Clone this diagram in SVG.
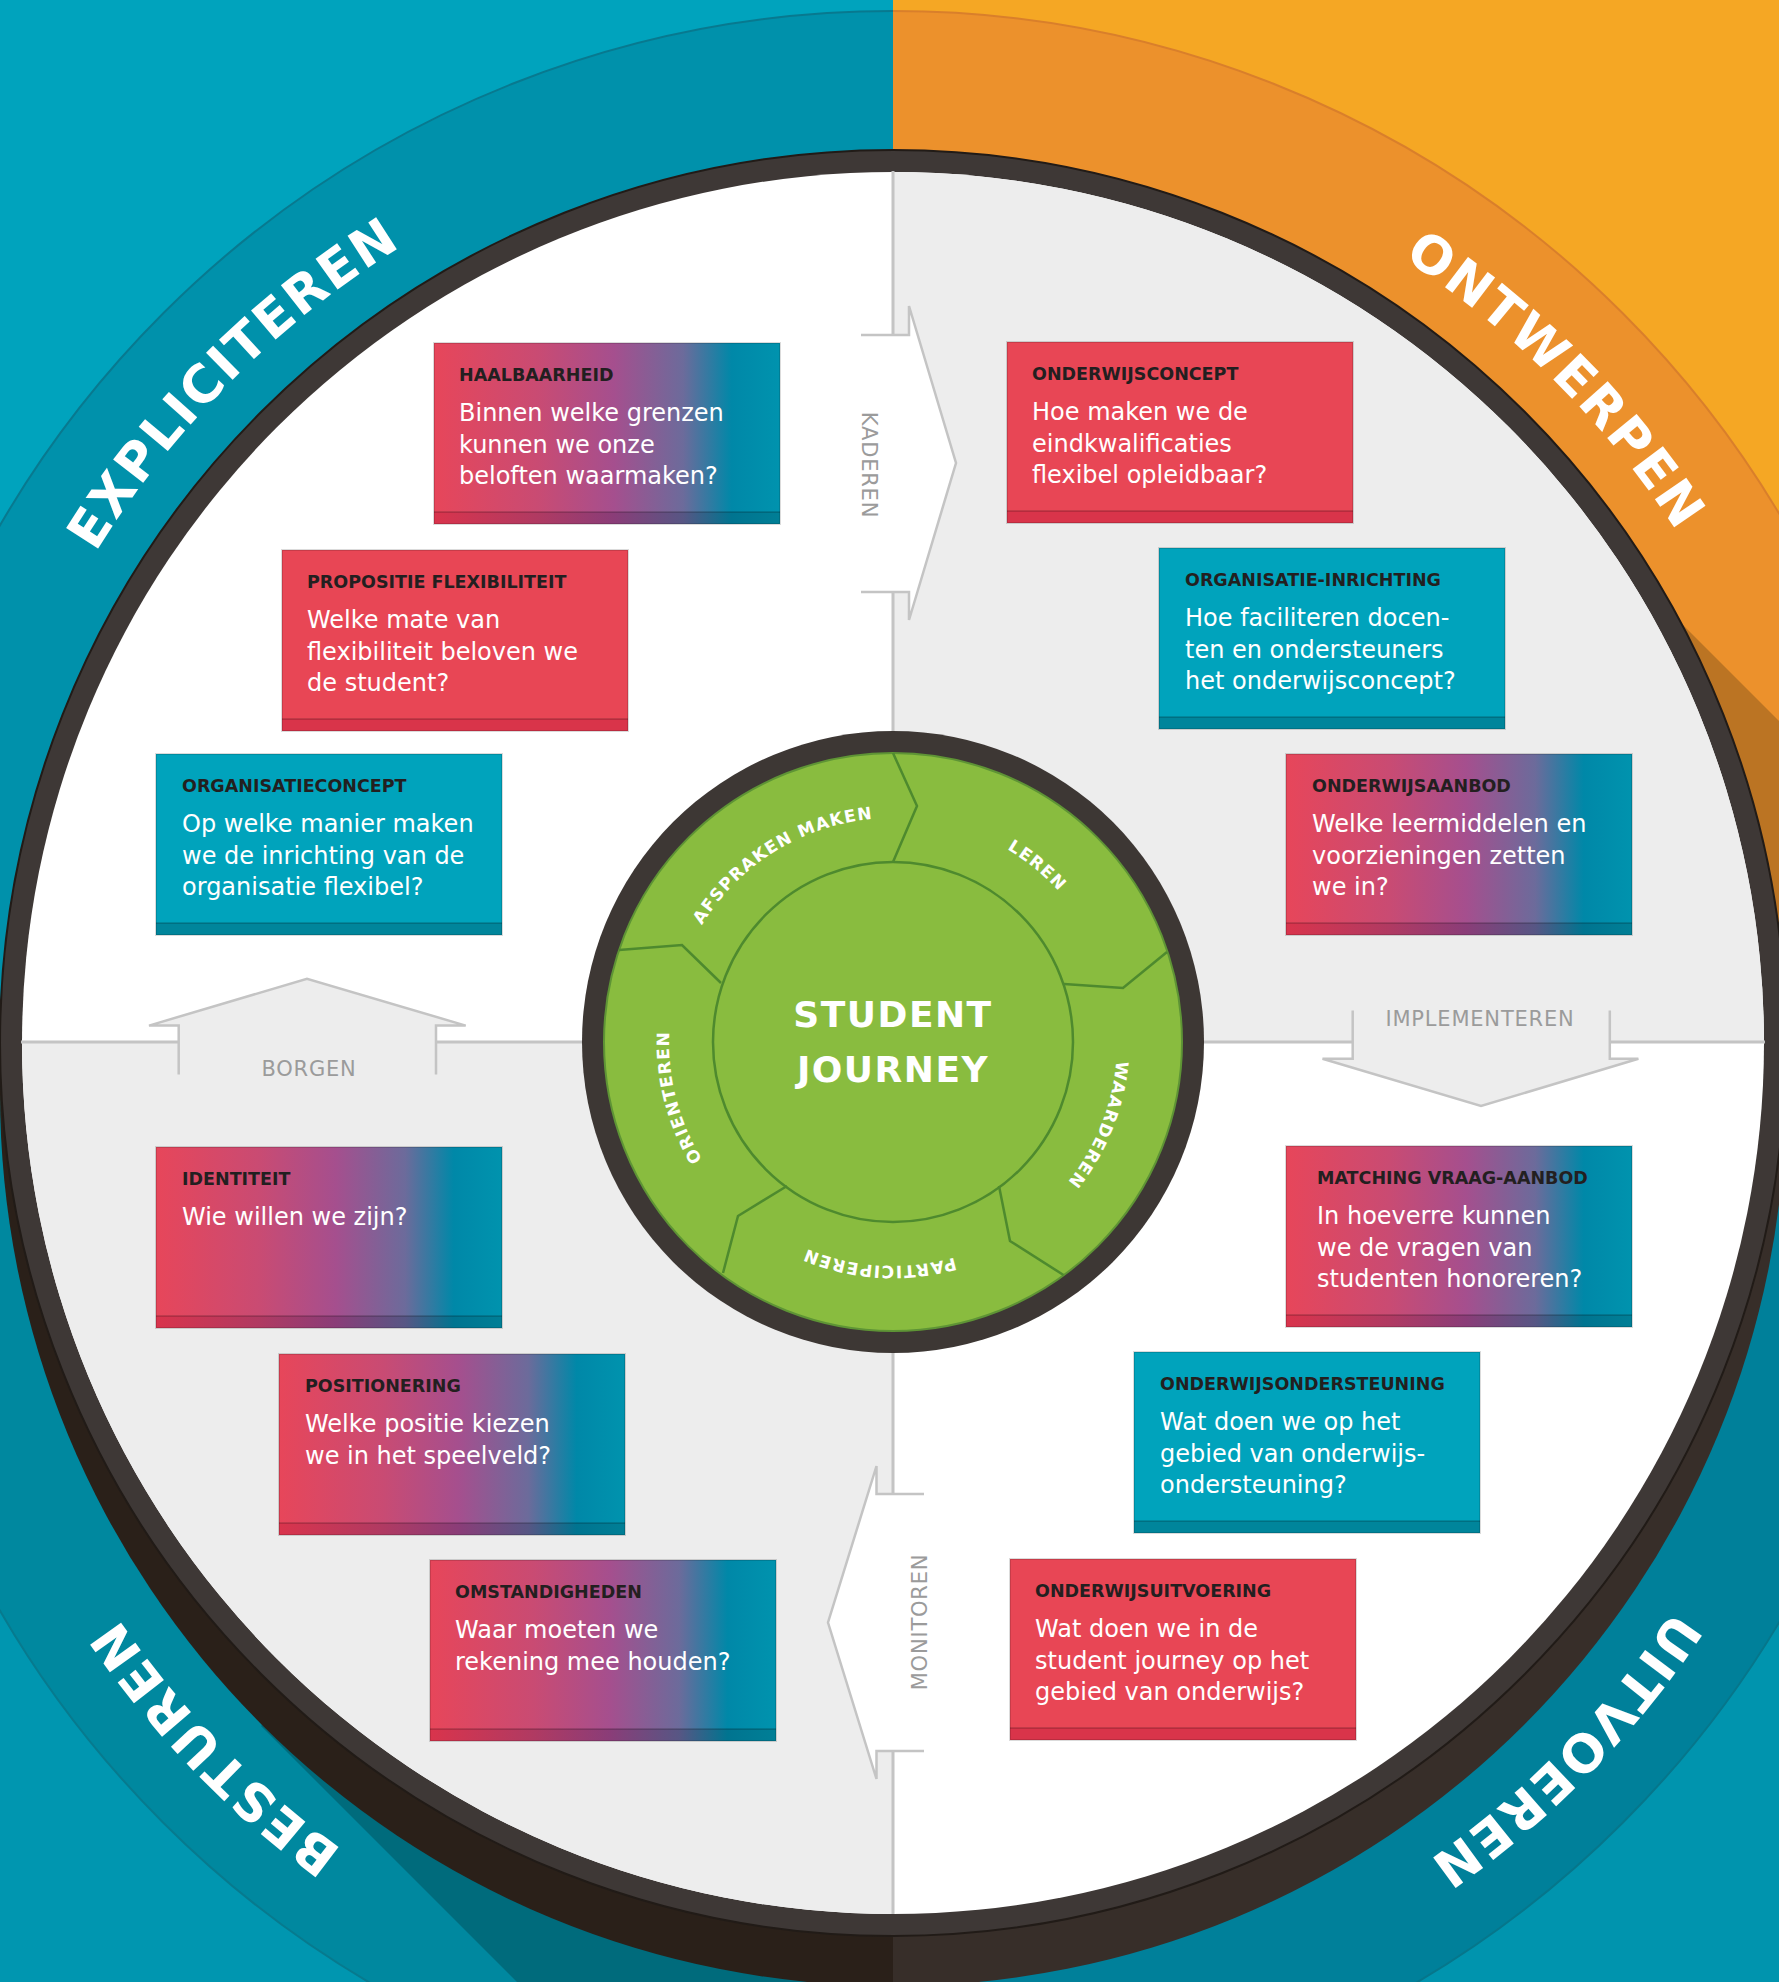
<svg xmlns="http://www.w3.org/2000/svg" width="1779" height="1982" viewBox="0 0 1779 1982">
<defs>
<style>
.hd{font-family:"DejaVu Sans",sans-serif;font-weight:bold;font-size:17.5px;fill:#231f20}
.bd{font-family:"DejaVu Sans",sans-serif;font-size:24px;fill:#ffffff}
.seg{font-family:"DejaVu Sans",sans-serif;font-weight:bold;font-size:17px;fill:#ffffff;letter-spacing:1.3px}
.quad{font-family:"DejaVu Sans",sans-serif;font-weight:bold;font-size:52px;fill:#ffffff;letter-spacing:2px}
.alab{font-family:"DejaVu Sans",sans-serif;font-size:21px;fill:#9b9b9b;letter-spacing:0.8px}
.sj{font-family:"DejaVu Sans",sans-serif;font-weight:bold;font-size:36px;fill:#ffffff;letter-spacing:1.5px}
.conn{stroke:#c4c4c4;stroke-width:3;fill:none}
.arr{stroke:#c4c4c4;stroke-width:2.5;stroke-linejoin:miter}
.f-red{fill:#e84655}
.f-teal{fill:#00a3bc}
.f-grad{fill:url(#grad)}
.b-red{fill:#d9344a}
.b-teal{fill:#00859b}
.b-grad{fill:url(#gradDark)}
.bandline{stroke:#000;stroke-opacity:.22;stroke-width:1.5}
.edge{fill:none;stroke:#000;stroke-opacity:.14;stroke-width:2}
</style>
<linearGradient id="grad" x1="0" y1="0" x2="1" y2="0">
<stop offset="0" stop-color="#e7465a"/>
<stop offset="0.3" stop-color="#c94b73"/>
<stop offset="0.52" stop-color="#a54f8e"/>
<stop offset="0.72" stop-color="#6c6b9b"/>
<stop offset="0.86" stop-color="#0088a8"/>
<stop offset="1" stop-color="#0093ae"/>
</linearGradient>
<linearGradient id="gradDark" x1="0" y1="0" x2="1" y2="0">
<stop offset="0" stop-color="#d9344c"/>
<stop offset="0.3" stop-color="#b03a62"/>
<stop offset="0.52" stop-color="#8a3d78"/>
<stop offset="0.72" stop-color="#575684"/>
<stop offset="0.86" stop-color="#007490"/>
<stop offset="1" stop-color="#007f96"/>
</linearGradient>
<clipPath id="cTL"><rect x="0" y="0" width="893" height="1093"/></clipPath>
<clipPath id="cTR"><rect x="893" y="0" width="886" height="1093"/></clipPath>
<clipPath id="cBL"><rect x="0" y="1093" width="893" height="889"/></clipPath>
<clipPath id="cBR"><rect x="893" y="1093" width="886" height="889"/></clipPath>
<clipPath id="cL"><rect x="0" y="0" width="893" height="1982"/></clipPath>
<clipPath id="cR"><rect x="893" y="0" width="886" height="1982"/></clipPath>
<clipPath id="bandTop"><circle cx="893" cy="1043" r="1032"/></clipPath>
<clipPath id="bandBot"><circle cx="893" cy="1093" r="1032"/></clipPath>
<clipPath id="disk"><circle cx="893" cy="1043" r="871"/></clipPath>
<path id="pTL" d="M-39.4,961.4 A936,936 0 0 1 811.4,110.6"/>
<path id="pTR" d="M974.6,110.6 A936,936 0 0 1 1825.4,961.4"/>
<path id="pBL" d="M795.2,2023.9 A936,936 0 0 1 -40.7,1158.3"/>
<path id="pBR" d="M1826.3,1164 A936,936 0 0 1 985.2,2024.4"/>
<path id="pAF" d="M669.1,1049 A224,224 0 0 1 998.9,844.6"/>
<path id="pLE" d="M813.8,832.5 A224,224 0 0 1 1114.1,1078.2"/>
<path id="pWA" d="M1069.3,903.8 A224,224 0 0 1 924.6,1263.8"/>
<path id="pPA" d="M1079.8,1165.6 A224,224 0 0 1 692.5,1141.9"/>
<path id="pOR" d="M832.8,1257.8 A224,224 0 0 1 736.3,882"/>
</defs>

<g id="background">
<rect x="0" y="0" width="893" height="1093" fill="#00a3bd"/>
<rect x="893" y="0" width="886" height="1093" fill="#f5a724"/>
<rect x="0" y="1093" width="893" height="889" fill="#0096b0"/>
<rect x="893" y="1093" width="886" height="889" fill="#0094ae"/>
<g clip-path="url(#cTL)"><circle cx="893" cy="1043" r="1032" fill="#0091ab" stroke="#08798f" stroke-width="2"/></g>
<g clip-path="url(#cTR)"><circle cx="893" cy="1043" r="1032" fill="#ec912c" stroke="#d97f2b" stroke-width="2"/>
<polygon points="1524,466 1779,721 1779,1093 893,1093" fill="#bb7423" clip-path="url(#bandTop)"/></g>
<g clip-path="url(#cBL)"><circle cx="893" cy="1093" r="1032" fill="#00889f" stroke="#077a8e" stroke-width="2"/>
<polygon points="261,1726 517,1982 893,1982 893,1093" fill="#006b7c" clip-path="url(#bandBot)"/></g>
<g clip-path="url(#cBR)"><circle cx="893" cy="1093" r="1032" fill="#00809a" stroke="#06768b" stroke-width="2"/></g>
</g>

<g id="wheel">
<circle cx="893" cy="1093" r="893" fill="#2a2019" clip-path="url(#cL)"/>
<circle cx="893" cy="1093" r="893" fill="#372e29" clip-path="url(#cR)"/>
<circle cx="893" cy="1043" r="893" fill="#3e3836" stroke="#211b17" stroke-width="2"/>
<circle cx="893" cy="1043" r="871" fill="#ffffff"/>
<g clip-path="url(#disk)">
<rect x="893" y="0" width="886" height="1042" fill="#ededed"/>
<rect x="0" y="1042" width="893" height="940" fill="#ededed"/>
</g>
</g>

<g id="connectors">
<path class="conn" d="M893,171 V335 M893,592 V731 M893,1353 V1494 M893,1751 V1914 M21,1042 H178.7 M436,1042 H582 M1204,1042 H1352.7 M1609.8,1042 H1765"/>
<path class="arr" fill="#ffffff" d="M861,335 H909 V306 L956,463 L909,620 V592 H861"/>
<path class="arr" fill="#ffffff" d="M924,1494 H876.5 V1466 L828,1622.5 L876.5,1779 V1751 H924"/>
<path class="arr" fill="#ededed" d="M178.7,1074.5 V1025.6 H149 L307,978.7 L465.7,1025.6 H436 V1074.5"/>
<path class="arr" fill="#ededed" d="M1352.7,1010.6 V1058.8 H1322.5 L1481,1106 L1638.4,1058.8 H1609.8 V1010.6"/>
<text class="alab" transform="translate(862,465) rotate(90)" text-anchor="middle">KADEREN</text>
<text class="alab" transform="translate(927,1622) rotate(-90)" text-anchor="middle">MONITOREN</text>
<text class="alab" x="309" y="1075.5" text-anchor="middle">BORGEN</text>
<text class="alab" x="1480" y="1026" text-anchor="middle">IMPLEMENTEREN</text>
</g>

<g id="phases">
<text class="quad"><textPath href="#pTL" startOffset="50%" text-anchor="middle">EXPLICITEREN</textPath></text>
<text class="quad"><textPath href="#pTR" startOffset="50%" text-anchor="middle">ONTWERPEN</textPath></text>
<text class="quad"><textPath href="#pBL" startOffset="50%" text-anchor="middle">BESTUREN</textPath></text>
<text class="quad"><textPath href="#pBR" startOffset="50%" text-anchor="middle">UITVOEREN</textPath></text>
</g>

<g id="box-haalbaarheid" transform="translate(434,343)">
<rect width="346" height="181" class="f-grad"/><rect y="169" width="346" height="12" class="b-grad"/>
<line x1="0" y1="169" x2="346" y2="169" class="bandline"/><rect width="346" height="181" class="edge"/>
<text class="hd" x="25" y="38">HAALBAARHEID</text>
<text class="bd"><tspan x="25" y="78">Binnen welke grenzen</tspan><tspan x="25" y="109.5">kunnen we onze</tspan><tspan x="25" y="141">beloften waarmaken?</tspan></text>
</g>

<g id="box-propositie" transform="translate(282,550)">
<rect width="346" height="181" class="f-red"/><rect y="169" width="346" height="12" class="b-red"/>
<line x1="0" y1="169" x2="346" y2="169" class="bandline"/><rect width="346" height="181" class="edge"/>
<text class="hd" x="25" y="38">PROPOSITIE FLEXIBILITEIT</text>
<text class="bd"><tspan x="25" y="78">Welke mate van</tspan><tspan x="25" y="109.5">flexibiliteit beloven we</tspan><tspan x="25" y="141">de student?</tspan></text>
</g>

<g id="box-organisatieconcept" transform="translate(156,754)">
<rect width="346" height="181" class="f-teal"/><rect y="169" width="346" height="12" class="b-teal"/>
<line x1="0" y1="169" x2="346" y2="169" class="bandline"/><rect width="346" height="181" class="edge"/>
<text class="hd" x="26" y="38">ORGANISATIECONCEPT</text>
<text class="bd"><tspan x="26" y="78">Op welke manier maken</tspan><tspan x="26" y="109.5">we de inrichting van de</tspan><tspan x="26" y="141">organisatie flexibel?</tspan></text>
</g>

<g id="box-identiteit" transform="translate(156,1147)">
<rect width="346" height="181" class="f-grad"/><rect y="169" width="346" height="12" class="b-grad"/>
<line x1="0" y1="169" x2="346" y2="169" class="bandline"/><rect width="346" height="181" class="edge"/>
<text class="hd" x="26" y="38">IDENTITEIT</text>
<text class="bd"><tspan x="26" y="78">Wie willen we zijn?</tspan></text>
</g>

<g id="box-positionering" transform="translate(279,1354)">
<rect width="346" height="181" class="f-grad"/><rect y="169" width="346" height="12" class="b-grad"/>
<line x1="0" y1="169" x2="346" y2="169" class="bandline"/><rect width="346" height="181" class="edge"/>
<text class="hd" x="26" y="38">POSITIONERING</text>
<text class="bd"><tspan x="26" y="78">Welke positie kiezen</tspan><tspan x="26" y="109.5">we in het speelveld?</tspan></text>
</g>

<g id="box-omstandigheden" transform="translate(430,1560)">
<rect width="346" height="181" class="f-grad"/><rect y="169" width="346" height="12" class="b-grad"/>
<line x1="0" y1="169" x2="346" y2="169" class="bandline"/><rect width="346" height="181" class="edge"/>
<text class="hd" x="25" y="38">OMSTANDIGHEDEN</text>
<text class="bd"><tspan x="25" y="78">Waar moeten we</tspan><tspan x="25" y="109.5">rekening mee houden?</tspan></text>
</g>

<g id="box-onderwijsconcept" transform="translate(1007,342)">
<rect width="346" height="181" class="f-red"/><rect y="169" width="346" height="12" class="b-red"/>
<line x1="0" y1="169" x2="346" y2="169" class="bandline"/><rect width="346" height="181" class="edge"/>
<text class="hd" x="25" y="38">ONDERWIJSCONCEPT</text>
<text class="bd"><tspan x="25" y="78">Hoe maken we de</tspan><tspan x="25" y="109.5">eindkwalificaties</tspan><tspan x="25" y="141">flexibel opleidbaar?</tspan></text>
</g>

<g id="box-organisatie-inrichting" transform="translate(1159,548)">
<rect width="346" height="181" class="f-teal"/><rect y="169" width="346" height="12" class="b-teal"/>
<line x1="0" y1="169" x2="346" y2="169" class="bandline"/><rect width="346" height="181" class="edge"/>
<text class="hd" x="26" y="38">ORGANISATIE-INRICHTING</text>
<text class="bd"><tspan x="26" y="78">Hoe faciliteren docen-</tspan><tspan x="26" y="109.5">ten en ondersteuners</tspan><tspan x="26" y="141">het onderwijsconcept?</tspan></text>
</g>

<g id="box-onderwijsaanbod" transform="translate(1286,754)">
<rect width="346" height="181" class="f-grad"/><rect y="169" width="346" height="12" class="b-grad"/>
<line x1="0" y1="169" x2="346" y2="169" class="bandline"/><rect width="346" height="181" class="edge"/>
<text class="hd" x="26" y="38">ONDERWIJSAANBOD</text>
<text class="bd"><tspan x="26" y="78">Welke leermiddelen en</tspan><tspan x="26" y="109.5">voorzieningen zetten</tspan><tspan x="26" y="141">we in?</tspan></text>
</g>

<g id="box-matching" transform="translate(1286,1146)">
<rect width="346" height="181" class="f-grad"/><rect y="169" width="346" height="12" class="b-grad"/>
<line x1="0" y1="169" x2="346" y2="169" class="bandline"/><rect width="346" height="181" class="edge"/>
<text class="hd" x="31" y="38">MATCHING VRAAG-AANBOD</text>
<text class="bd"><tspan x="31" y="78">In hoeverre kunnen</tspan><tspan x="31" y="109.5">we de vragen van</tspan><tspan x="31" y="141">studenten honoreren?</tspan></text>
</g>

<g id="box-onderwijsondersteuning" transform="translate(1134,1352)">
<rect width="346" height="181" class="f-teal"/><rect y="169" width="346" height="12" class="b-teal"/>
<line x1="0" y1="169" x2="346" y2="169" class="bandline"/><rect width="346" height="181" class="edge"/>
<text class="hd" x="26" y="38">ONDERWIJSONDERSTEUNING</text>
<text class="bd"><tspan x="26" y="78">Wat doen we op het</tspan><tspan x="26" y="109.5">gebied van onderwijs-</tspan><tspan x="26" y="141">ondersteuning?</tspan></text>
</g>

<g id="box-onderwijsuitvoering" transform="translate(1010,1559)">
<rect width="346" height="181" class="f-red"/><rect y="169" width="346" height="12" class="b-red"/>
<line x1="0" y1="169" x2="346" y2="169" class="bandline"/><rect width="346" height="181" class="edge"/>
<text class="hd" x="25" y="38">ONDERWIJSUITVOERING</text>
<text class="bd"><tspan x="25" y="78">Wat doen we in de</tspan><tspan x="25" y="109.5">student journey op het</tspan><tspan x="25" y="141">gebied van onderwijs?</tspan></text>
</g>

<g id="student-journey">
<circle cx="893" cy="1042" r="311" fill="#3d3734"/>
<circle cx="893" cy="1042" r="289" fill="#89bc3f" stroke="#5e9435" stroke-width="2"/>
<circle cx="893" cy="1042" r="180" fill="none" stroke="#4e8a2e" stroke-width="2.5"/>
<path d="M893,753 L917,806 L893,862 M1167,952 L1123,988 L1064,984 M999,1186 L1010,1241 L1063.5,1275 M787,1186 L738,1216 L723,1273 M619,950 L682,945 L721,983" fill="none" stroke="#4e8a2e" stroke-width="2.5" stroke-linejoin="miter"/>
<text class="seg"><textPath href="#pAF" startOffset="50%" text-anchor="middle">AFSPRAKEN MAKEN</textPath></text>
<text class="seg"><textPath href="#pLE" startOffset="50%" text-anchor="middle">LEREN</textPath></text>
<text class="seg"><textPath href="#pWA" startOffset="50%" text-anchor="middle">WAARDEREN</textPath></text>
<text class="seg"><textPath href="#pPA" startOffset="50%" text-anchor="middle">PARTICIPEREN</textPath></text>
<text class="seg"><textPath href="#pOR" startOffset="50%" text-anchor="middle">ORIENTEREN</textPath></text>
<text class="sj" x="893" y="1027" text-anchor="middle">STUDENT</text>
<text class="sj" x="893" y="1082" text-anchor="middle">JOURNEY</text>
</g>
</svg>
